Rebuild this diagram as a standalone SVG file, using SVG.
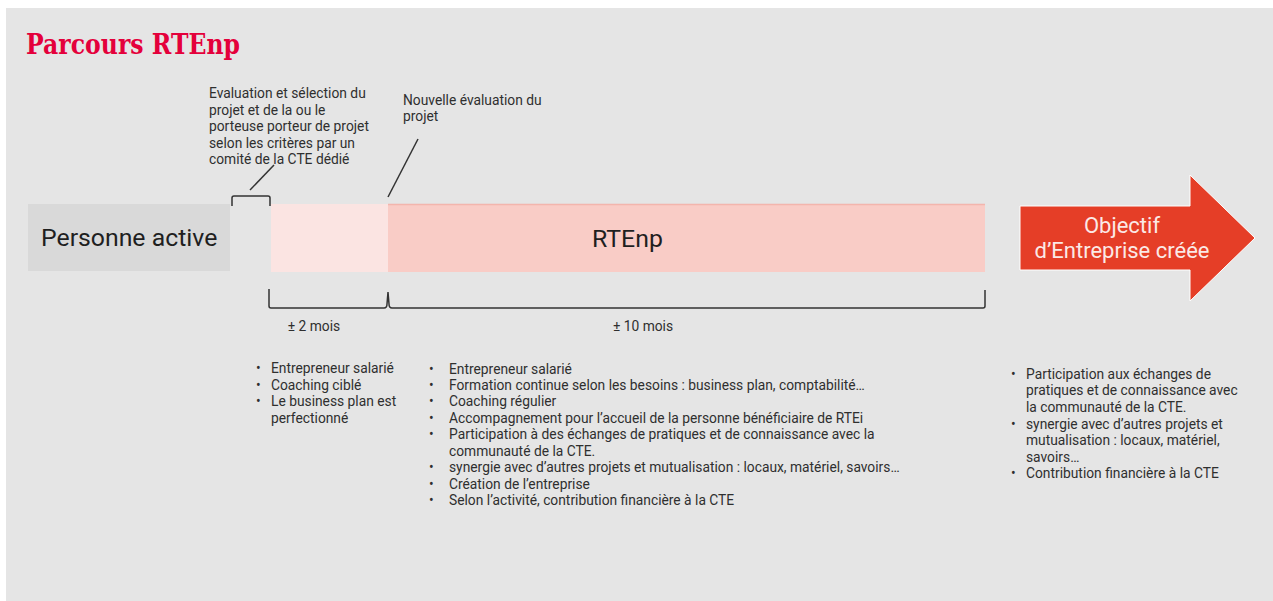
<svg xmlns="http://www.w3.org/2000/svg" width="1273" height="601" viewBox="0 0 1273 601">
  <style>
    .txt { font-family: Roboto, "Liberation Sans", sans-serif; font-size: 13.8px; fill: #2f2f2f; }
    .big { font-family: Roboto, "Liberation Sans", sans-serif; font-size: 24.8px; fill: #1f1f1f; }
    .white { font-family: Roboto, "Liberation Sans", sans-serif; font-size: 22px; fill: #fbe9e6; }
    .title { font-family: "DejaVu Serif", "Liberation Serif", serif; font-weight: bold; font-size: 27px; fill: #e4003b; }
    .line { fill: none; stroke: #333333; stroke-width: 1.5; }
  </style>

  <!-- page -->
  <rect x="0" y="0" width="1273" height="601" fill="#ffffff"/>
  <rect x="6" y="8" width="1267" height="593" fill="#e5e5e5"/>

  <text class="title" x="26" y="54" textLength="214" lengthAdjust="spacingAndGlyphs">Parcours RTEnp</text>

  <!-- phases -->
  <g id="personne-active">
    <rect x="28" y="204" width="202" height="67" fill="#d9d9d9"/>
    <text class="big" x="41" y="246">Personne active</text>
  </g>

  <g id="phase-initiale">
    <rect x="271" y="204" width="117" height="68" fill="#fbe4e2"/>
  </g>

  <g id="rtenp">
    <rect x="388" y="204" width="597" height="68" fill="#f9ccc6"/>
    <line x1="388" y1="204.5" x2="985" y2="204.5" stroke="#f3b5ad" stroke-width="1.5"/>
    <text class="big" x="592" y="247" font-size="24">RTEnp</text>
  </g>

  <g id="objectif">
    <path d="M1020,206 L1190,206 L1190,175 L1255,238 L1190,301 L1190,270 L1020,270 Z" fill="#e53e27" stroke="#ffffff" stroke-width="1"/>
    <text class="white" x="1122" y="233" text-anchor="middle">Objectif</text>
    <text class="white" x="1122" y="258" text-anchor="middle">d’Entreprise créée</text>
  </g>

  <!-- annotations and brackets -->
  <g id="connectors">
    <path class="line" d="M232,206 L232,198 Q232,196 234,196 L268,196 Q270,196 270,198 L270,206"/>
    <line class="line" x1="250" y1="190" x2="274" y2="165"/>
    <line class="line" x1="388" y1="197" x2="418" y2="139"/>
    <path class="line" d="M269,289 L269,306 Q269,308 271,308 L384,308 Q387,308 387,304 L388,292 L389,304 Q389,308 392,308 L983,308 Q985,308 985,306 L985,290"/>
  </g>

  <g id="note-selection">
    <text class="txt" x="209" y="98">Evaluation et sélection du</text>
    <text class="txt" x="209" y="115">projet et de la ou le</text>
    <text class="txt" x="209" y="131">porteuse porteur de projet</text>
    <text class="txt" x="209" y="148">selon les critères par un</text>
    <text class="txt" x="209" y="164">comité de la CTE dédié</text>
  </g>

  <g id="note-evaluation">
    <text class="txt" x="403" y="105">Nouvelle évaluation du</text>
    <text class="txt" x="403" y="121">projet</text>
  </g>

  <g id="durees">
    <text class="txt" x="314" y="331" text-anchor="middle">± 2 mois</text>
    <text class="txt" x="643" y="331" text-anchor="middle">± 10 mois</text>
  </g>

  <!-- lists -->
  <g id="liste-initiale">
    <text class="txt" x="256" y="373">•</text><text class="txt" x="271" y="373">Entrepreneur salarié</text>
    <text class="txt" x="256" y="390">•</text><text class="txt" x="271" y="390">Coaching ciblé</text>
    <text class="txt" x="256" y="406">•</text><text class="txt" x="271" y="406">Le business plan est</text>
    <text class="txt" x="271" y="423">perfectionné</text>
  </g>

  <g id="liste-rtenp">
    <text class="txt" x="429" y="374">•</text><text class="txt" x="449" y="374">Entrepreneur salarié</text>
    <text class="txt" x="429" y="390">•</text><text class="txt" x="449" y="390">Formation continue selon les besoins : business plan, comptabilité…</text>
    <text class="txt" x="429" y="406">•</text><text class="txt" x="449" y="406">Coaching régulier</text>
    <text class="txt" x="429" y="423">•</text><text class="txt" x="449" y="423">Accompagnement pour l’accueil de la personne bénéficiaire de RTEi</text>
    <text class="txt" x="429" y="439">•</text><text class="txt" x="449" y="439">Participation à des échanges de pratiques et de connaissance avec la</text>
    <text class="txt" x="449" y="456">communauté de la CTE.</text>
    <text class="txt" x="429" y="472">•</text><text class="txt" x="449" y="472">synergie avec d’autres projets et mutualisation : locaux, matériel, savoirs…</text>
    <text class="txt" x="429" y="489">•</text><text class="txt" x="449" y="489">Création de l’entreprise</text>
    <text class="txt" x="429" y="505">•</text><text class="txt" x="449" y="505">Selon l’activité, contribution financière à la CTE</text>
  </g>

  <g id="liste-objectif">
    <text class="txt" x="1011" y="379">•</text><text class="txt" x="1026" y="379">Participation aux échanges de</text>
    <text class="txt" x="1026" y="395">pratiques et de connaissance avec</text>
    <text class="txt" x="1026" y="412">la communauté de la CTE.</text>
    <text class="txt" x="1011" y="429">•</text><text class="txt" x="1026" y="429">synergie avec d’autres projets et</text>
    <text class="txt" x="1026" y="445">mutualisation : locaux, matériel,</text>
    <text class="txt" x="1026" y="462">savoirs…</text>
    <text class="txt" x="1011" y="478">•</text><text class="txt" x="1026" y="478">Contribution financière à la CTE</text>
  </g>
</svg>
